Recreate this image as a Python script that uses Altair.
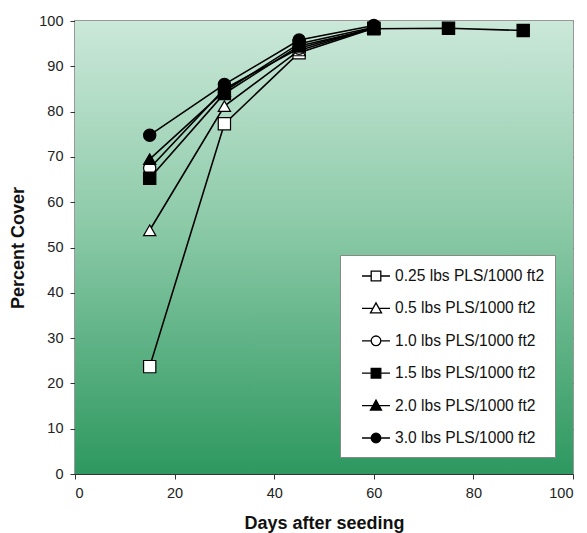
import altair as alt
import pandas as pd

days = [15, 30, 45, 60, 75, 90]
rates = ["0.25 lbs PLS/1000 ft2", "0.5 lbs PLS/1000 ft2", "1.0 lbs PLS/1000 ft2",
         "1.5 lbs PLS/1000 ft2", "2.0 lbs PLS/1000 ft2", "3.0 lbs PLS/1000 ft2"]
cover_025 = [23.7, 77.3, 93.0, 98.4]
cover_05 = [53.8, 81.2, 93.5, 98.5]
cover_10 = [67.5, 85.0, 94.0, 98.5]
cover_15 = [65.3, 84.0, 94.5, 98.3, 98.4, 97.9]
cover_20 = [69.5, 84.5, 95.0, 98.6]
cover_30 = [74.8, 86.0, 95.8, 99.0]
series = [cover_025, cover_05, cover_10, cover_15, cover_20, cover_30]

rows = []
for rate, vals in zip(rates, series):
    for d, v in zip(days, vals):
        rows.append({"Days": d, "Cover": v, "Rate": rate, "RateL": rate})
df = pd.DataFrame(rows)

fills = ["white", "white", "white", "black", "black", "black"]
shapes = ["square", "triangle-up", "circle", "square", "triangle-up", "circle"]

sq = "M0.1,0H1.02M1.98,0H2.9M1.02,-0.48H1.98V0.48H1.02Z"
tri = "M0.1,0H1.2M1.8,0H2.9M0.95,0.45L1.5,-0.55L2.05,0.45Z"
cir = "M0.1,0H1.02M1.98,0H2.9M1.02,0A0.48,0.48 0 1,0 1.98,0A0.48,0.48 0 1,0 1.02,0Z"
legend_paths = [sq, tri, cir, sq, tri, cir]

xs = alt.X("Days:Q", scale=alt.Scale(domain=[0, 100], nice=False),
           axis=alt.Axis(values=[0, 20, 40, 60, 80, 100], grid=False,
                         title="Days after seeding"))
ys = alt.Y("Cover:Q", scale=alt.Scale(domain=[0, 100], nice=False),
           axis=alt.Axis(values=list(range(0, 101, 10)), grid=True,
                         title="Percent Cover"))

bg = alt.Chart(pd.DataFrame({"a": [0]})).mark_rect(
    fill=alt.Gradient(
        gradient="linear",
        stops=[alt.GradientStop(color="#cbe8d9", offset=0),
               alt.GradientStop(color="#8ccaa8", offset=0.45),
               alt.GradientStop(color="#2d985f", offset=1)],
        x1=0, x2=0, y1=0, y2=1),
).encode(x=alt.datum(0), x2=alt.datum(100), y=alt.datum(100), y2=alt.datum(0))

lines = alt.Chart(df).mark_line(color="black", strokeWidth=1.6).encode(
    x=xs, y=ys, detail="Rate:N", order="Days:Q")

points = alt.Chart(df).mark_point(filled=True, size=150, stroke="black",
                                   strokeWidth=1.2, opacity=1).encode(
    x="Days:Q", y="Cover:Q",
    shape=alt.Shape("Rate:N", scale=alt.Scale(domain=rates, range=shapes), legend=None),
    fill=alt.Fill("Rate:N", scale=alt.Scale(domain=rates, range=fills), legend=None),
)

leg = alt.Legend(
    title=None, orient="none", legendX=265, legendY=234,
    fillColor="white", strokeColor="#888888", padding=10,
    labelFont="Liberation Sans", labelFontSize=15.6, labelColor="#111111",
    labelOffset=23, rowPadding=12.4, symbolSize=400, symbolOpacity=1,
    symbolStrokeColor="black", symbolStrokeWidth=1.3, labelLimit=300,
    labelExpr="datum.label + '\u2007\u2007'",
)
legend_layer = alt.Chart(df).mark_point(filled=False, stroke="black", strokeWidth=1.3,
                                         opacity=0, size=1).encode(
    x="Days:Q", y="Cover:Q",
    shape=alt.Shape("RateL:N", scale=alt.Scale(domain=rates, range=legend_paths), legend=leg),
    fill=alt.Fill("RateL:N", scale=alt.Scale(domain=rates, range=fills), legend=leg),
    stroke=alt.Stroke("RateL:N", scale=alt.Scale(domain=rates, range=["black"] * 6), legend=leg),
)

chart = alt.layer(bg, lines, points, legend_layer).resolve_scale(
    shape="independent", fill="independent", stroke="independent"
).properties(
    width=498, height=453,
    autosize=alt.AutoSizeParams(type="none"),
    padding={"left": 67, "top": 13, "right": 6, "bottom": 59},
).configure_view(stroke="#999999", strokeWidth=2).configure_axis(
    labelFont="Liberation Sans", labelFontSize=14.5, labelColor="#222222",
    titleFont="Liberation Sans", titleFontSize=18, titleFontWeight="bold",
    titleColor="#111111", domainColor="#333333", tickColor="#333333",
    tickSize=5,
).configure_axisX(titlePadding=15, labelPadding=7).configure_axisY(
    titlePadding=11, labelPadding=7, gridColor="#4d7c61", gridOpacity=1)

chart.save("out.html", embed_options={"renderer": "svg", "actions": False})
